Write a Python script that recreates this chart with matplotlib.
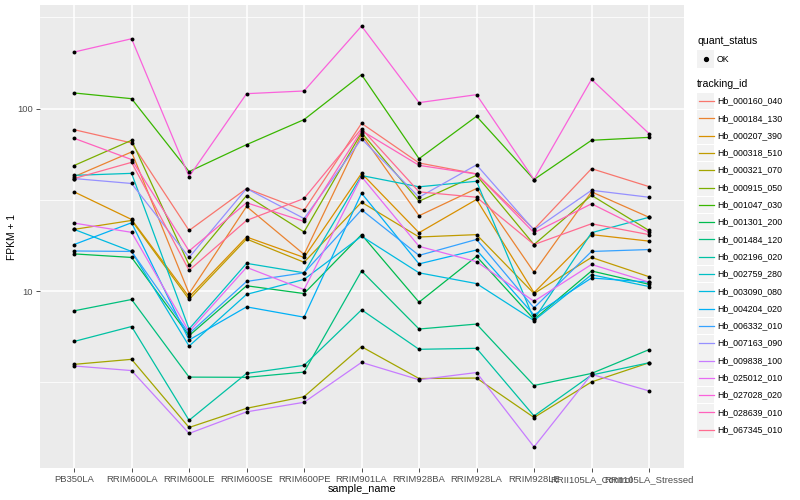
import matplotlib.pyplot as plt
import numpy as np
from matplotlib.patches import Rectangle
from matplotlib.lines import Line2D

plt.rcParams['font.family'] = ['Liberation Sans', 'DejaVu Sans']

samples = ["PB350LA", "RRIM600LA", "RRIM600LE", "RRIM600SE", "RRIM600PE", "RRIM901LA",
           "RRIM928BA", "RRIM928LA", "RRIM928LE", "RRII105LA_Control", "RRII105LA_Stressed"]

tracking_ids = ["Hb_000160_040", "Hb_000184_130", "Hb_000207_390", "Hb_000318_510",
                "Hb_000321_070", "Hb_000915_050", "Hb_001047_030", "Hb_001301_200",
                "Hb_001484_120", "Hb_002196_020", "Hb_002759_280", "Hb_003090_080",
                "Hb_004204_020", "Hb_006332_010", "Hb_007163_090", "Hb_009838_100",
                "Hb_025012_010", "Hb_027028_020", "Hb_028639_010", "Hb_067345_010"]

# ggplot hue palette, 20 levels
colors = ["#F8766D", "#EA8331", "#D89000", "#C09B00", "#A3A500", "#7CAE00", "#39B600",
          "#00BB4E", "#00BF7D", "#00C1A3", "#00BFC4", "#00BAE0", "#00B0F6", "#35A2FF",
          "#9590FF", "#C77CFF", "#E76BF3", "#FA62DB", "#FF62BC", "#FF6C91"]

# FPKM + 1, one value per sample
hb_000160_040 = [76.7, 64.9, 21.5, 36.5, 27.7, 83.1, 50.4, 43.9, 21.8, 46.9, 37.4]
hb_000184_130 = [42.4, 57.9, 9.7, 29.1, 15.9, 72.1, 25.9, 36.5, 12.7, 35.0, 25.4]
hb_000207_390 = [35.0, 24.7, 9.3, 19.8, 15.3, 44.2, 20.9, 31.8, 9.8, 20.4, 18.8]
hb_000318_510 = [21.8, 24.4, 9.0, 19.3, 14.4, 30.7, 19.8, 20.4, 9.7, 15.3, 12.0]
hb_000321_070 = [3.97, 4.23, 1.79, 2.28, 2.64, 4.96, 3.32, 3.34, 2.03, 3.18, 4.05]
hb_000915_050 = [48.8, 67.1, 13.9, 33.4, 21.1, 73.9, 31.1, 43.1, 18.0, 33.5, 21.5]
hb_001047_030 = [121.9, 113.4, 45.2, 63.5, 87.1, 153.5, 53.2, 90.8, 40.9, 67.1, 69.6]
hb_001301_200 = [16.0, 15.3, 5.7, 10.7, 9.7, 20.4, 8.7, 15.5, 7.0, 12.9, 10.9]
hb_001484_120 = [7.8, 9.0, 3.38, 3.37, 3.6, 12.9, 6.2, 6.6, 3.04, 3.54, 4.78]
hb_002196_020 = [5.3, 6.4, 1.96, 3.54, 3.92, 7.9, 4.8, 4.86, 2.07, 3.47, 4.05]
hb_002759_280 = [43.1, 44.2, 6.2, 14.2, 12.6, 43.0, 37.3, 40.0, 7.0, 20.9, 25.4]
hb_003090_080 = [21.8, 16.5, 5.0, 9.6, 11.6, 20.0, 12.6, 11.0, 6.9, 12.3, 10.6]
hb_004204_020 = [18.0, 23.7, 5.4, 8.2, 7.2, 34.4, 14.1, 16.8, 7.4, 11.8, 11.2]
hb_006332_010 = [16.6, 16.5, 5.85, 11.3, 12.6, 27.9, 15.7, 19.2, 8.1, 16.5, 16.9]
hb_007163_090 = [41.4, 38.9, 15.3, 36.5, 25.0, 68.3, 32.7, 49.2, 21.6, 35.7, 32.7]
hb_009838_100 = [3.89, 3.67, 1.66, 2.18, 2.46, 4.07, 3.27, 3.58, 1.40, 3.5, 2.84]
hb_025012_010 = [23.6, 21.0, 6.0, 13.5, 10.2, 42.4, 17.6, 14.5, 8.8, 14.0, 11.2]
hb_027028_020 = [204.3, 241.6, 42.4, 120.8, 125.0, 283.6, 107.9, 119.3, 40.9, 144.7, 73.0]
hb_028639_010 = [68.8, 52.6, 16.6, 30.5, 24.1, 75.8, 48.9, 43.8, 20.9, 30.1, 21.0]
hb_067345_010 = [41.4, 50.8, 13.0, 24.4, 32.2, 77.7, 35.0, 32.7, 18.0, 23.4, 20.4]

series = [hb_000160_040, hb_000184_130, hb_000207_390, hb_000318_510, hb_000321_070,
          hb_000915_050, hb_001047_030, hb_001301_200, hb_001484_120, hb_002196_020,
          hb_002759_280, hb_003090_080, hb_004204_020, hb_006332_010, hb_007163_090,
          hb_009838_100, hb_025012_010, hb_027028_020, hb_028639_010, hb_067345_010]

W, H = 800, 500
fig = plt.figure(figsize=(8, 5), dpi=100)
ax = fig.add_axes([39.6 / W, 1 - 468 / H, (683.5 - 39.6) / W, (468 - 5) / H])
ax.set_facecolor('#EBEBEB')

x = np.arange(len(samples))
for vals, c in zip(series, colors):
    ax.plot(x, vals, color=c, lw=0.9, zorder=2)
for vals in series:
    ax.scatter(x, vals, s=8, color='black', zorder=3, linewidths=0)

ax.set_yscale('log')
allv = np.concatenate([np.array(v) for v in series])
lo, hi = np.log10(allv.min()), np.log10(allv.max())
pad = 0.05 * (hi - lo)
ax.set_ylim(10 ** (lo - pad), 10 ** (hi + pad))
ax.set_xlim(-0.6, len(samples) - 0.4)

ax.set_yticks([10, 100])
ax.set_yticklabels(["10", "100"])
ax.set_yticks([10 ** 0.5, 10 ** 1.5, 10 ** 2.5], minor=True)
ax.yaxis.set_minor_formatter(plt.NullFormatter())
ax.set_xticks(x)
ax.set_xticklabels(samples)

ax.grid(which='major', color='white', lw=1.1, zorder=0)
ax.grid(which='minor', axis='y', color='white', lw=0.55, zorder=0)
ax.set_axisbelow(True)
for sp in ax.spines.values():
    sp.set_visible(False)
ax.tick_params(which='major', length=2.9, width=0.6, color='#333333',
               labelsize=6.8, labelcolor='#4D4D4D', pad=2)
ax.tick_params(which='minor', length=0)

ax.set_xlabel("sample_name", fontsize=7.8, va='center')
ax.xaxis.set_label_coords(0.5, (468 - 489) / 463)
ax.set_ylabel("FPKM + 1", fontsize=7.4, va='center')
ax.yaxis.set_label_coords((11.7 - 39.6) / 643.9, 0.5)

# legend drawn in pixel positions
def fx(px):
    return px / W

def fy(py):
    return 1 - py / H

fig.text(fx(697), fy(40.7), "quant_status", fontsize=7.6, va='center', ha='left')
fig.patches.append(Rectangle((fx(697), fy(67.5)), 17 / W, 17 / H, transform=fig.transFigure,
                             facecolor='#F2F2F2', edgecolor='none', figure=fig))
fig.lines.append(Line2D([fx(705.5)], [fy(59)], marker='o', markersize=2.8, color='black',
                        linestyle='none', transform=fig.transFigure, figure=fig))
fig.text(fx(717), fy(59), "OK", fontsize=6.3, va='center', ha='left')

fig.text(fx(697), fy(84), "tracking_id", fontsize=7.6, va='center', ha='left')
for i, (tid, c) in enumerate(zip(tracking_ids, colors)):
    cy = 101 + i * 17.3
    fig.patches.append(Rectangle((fx(697), fy(cy + 8.3)), 17 / W, 16.6 / H,
                                 transform=fig.transFigure, facecolor='#F2F2F2',
                                 edgecolor='none', figure=fig))
    fig.lines.append(Line2D([fx(698.5), fx(713.5)], [fy(cy), fy(cy)], color=c, lw=0.9,
                            transform=fig.transFigure, figure=fig))
    fig.text(fx(717), fy(cy), tid, fontsize=6.3, va='center', ha='left')

fig.savefig("out.png", dpi=100)
